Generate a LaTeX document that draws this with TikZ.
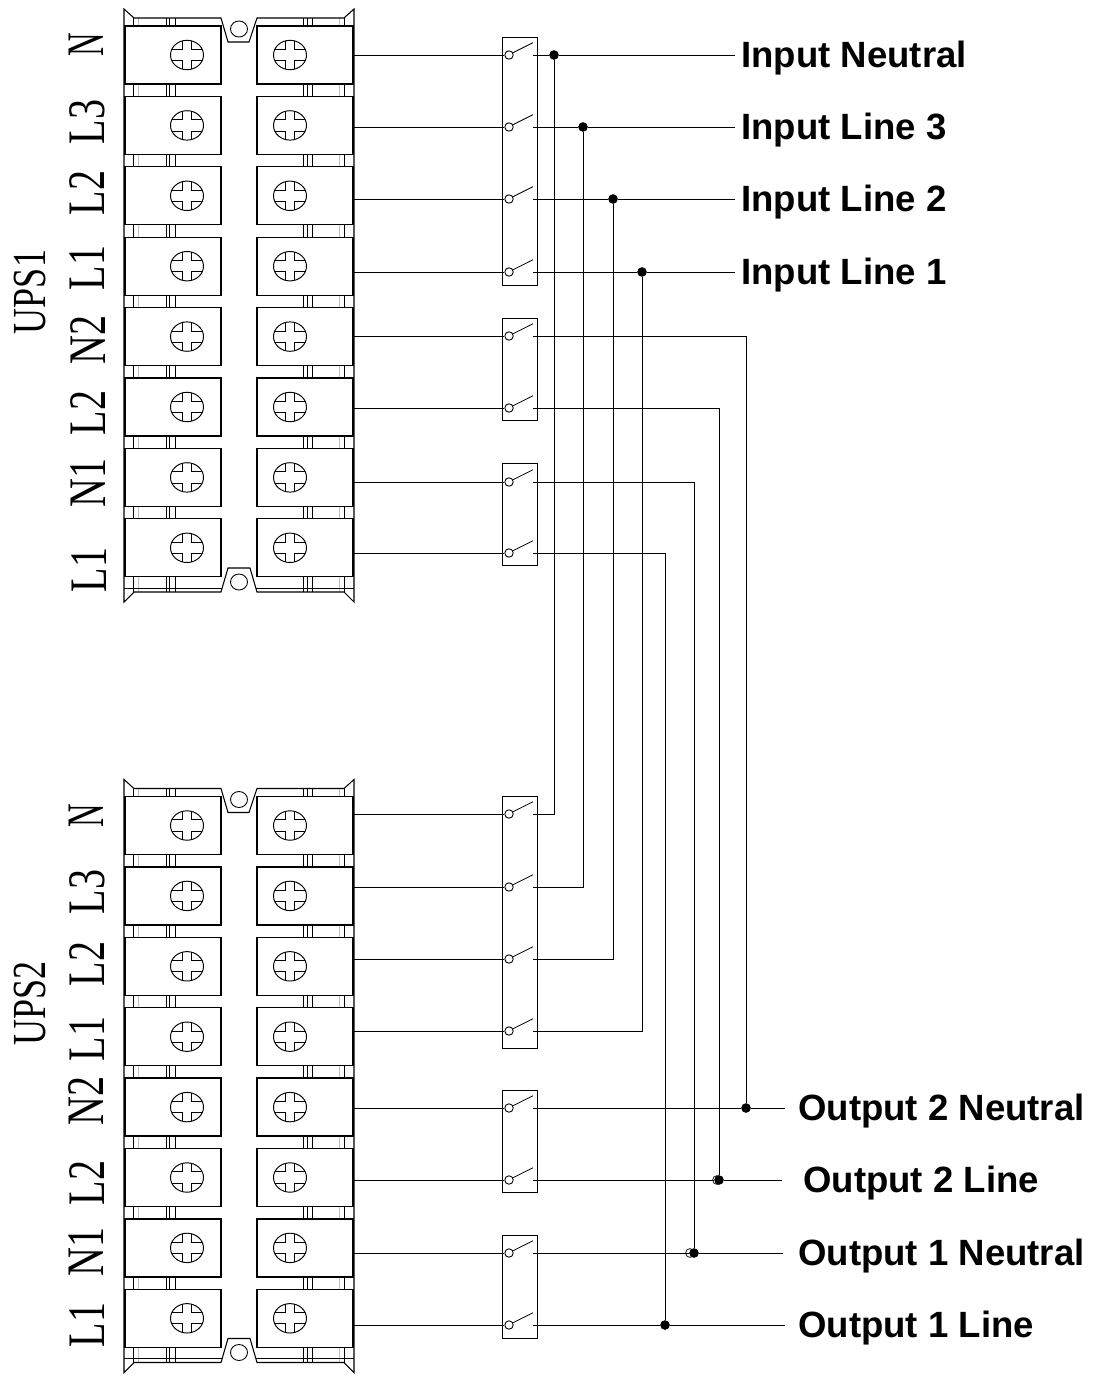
\documentclass[tikz,border=0pt]{standalone}
\usepackage{fontspec}
\setmainfont{Liberation Sans}
\newfontfamily\pinfont{Liberation Serif}
\usepackage{tikz}
\tikzset{
	wire/.style={line width=0.45pt},
	contact/.style={draw,circle,fill=white,inner sep=0pt,minimum size=4.8pt,line width=0.5pt},
	dot/.style={draw,circle,fill=black,inner sep=0pt,minimum size=5pt},
	opendot/.style={draw,circle,fill=white,inner sep=0pt,minimum size=5pt,line width=0.4pt},
	wirelabel/.style={anchor=west,inner sep=0pt,font=\fontsize{20.8}{24}\selectfont\bfseries},
	pinlabel/.style={rotate=90,inner sep=0pt,font=\fontsize{30}{34}\selectfont\pinfont},
	upslabel/.style={rotate=90,inner sep=0pt,font=\fontsize{27}{30}\selectfont\pinfont}
}
\newcommand{\narrow}[1]{\scalebox{0.76}[1]{#1}}
\begin{document}
\begin{tikzpicture}[x=0.02cm,y=-0.02cm]
	\useasboundingbox (0,0) rectangle (1096,1375);
	% terminal blocks
	\foreach \b in {0,770.5} {
		\begin{scope}[yshift=-\b*0.02cm]
			\foreach \x in {133,166,169,175,303,307,312,344}
			\draw [line width=0.5pt] (\x,18)--(\x,592);
			\foreach \x in {138,339}
			\draw [gray!50,line width=0.4pt] (\x,18)--(\x,592);
			\draw [line width=0.6pt] (134,18)--(124,9)--(124,602)--(134,592)--(221,592)--(228,568)--(250,568)--(257,592)--(344,592)--(354,602)--(354,9)--(344,18)--(257,18)--(249,42)--(228,42)--(221,18)--cycle;
			\draw [line width=0.4pt] (124,588)--(222,588) (256,588)--(354,588);
			\draw [line width=0.5pt] (239,29) circle [x radius=8.5,y radius=8];
			\draw [line width=0.5pt] (239,582) circle [x radius=8.5,y radius=8];
			\foreach \r in {0,...,7} {
				\draw [fill=white,line width=0.7pt] (125,{26+70.4*\r}) rectangle (221,{84+70.4*\r});
				\draw [fill=white,line width=0.7pt] (257,{26+70.4*\r}) rectangle (353,{84+70.4*\r});
				\foreach \x in {187,290} {
					\draw [line width=0.55pt] (\x,{55+70.4*\r}) circle [x radius=16.5,y radius=14.7];
					\foreach \sx/\sy in {1/1,1/-1,-1/1,-1/-1}
					\draw [line width=0.55pt] ({\x+\sx*4.7},{55+70.4*\r+\sy*14})--({\x+\sx*4.7},{55+70.4*\r+\sy*5.6})--({\x+\sx*15.3},{55+70.4*\r+\sy*5.6});
				}
			}
		\end{scope}
	}
	% switch boxes
	\foreach \t/\e in {37/285,318/420,463/565,796/1048,1090/1192,1235/1338}
	\draw [wire] (502,\t) rectangle (537,\e);
	% contacts
	\foreach \n/\y in {a1/55,a2/127,a3/199,a4/272,a5/336,a6/408,a7/482,a8/553,
		b1/814,b2/887,b3/959,b4/1031,b5/1108,b6/1180,b7/1253,b8/1325} {
		\coordinate (t\n) at (353,\y);
		\coordinate (o\n) at (533,\y);
		\node [contact] (c\n) at (509,\y) {};
		\draw [wire] (t\n) -- (c\n);
		\draw [wire] (c\n.30) -- +(20,-10);
	}
	% junctions
	\node [opendot] (h6) at (717,1180) {};
	\node [opendot] (h7) at (690,1253) {};
	\foreach \n/\x/\y in {ja1/554/55,ja2/583/127,ja3/613/199,ja4/642/272,
		jb5/746/1108,jb6/719/1180,jb7/694/1253,jb8/665/1325}
	\node [dot] (\n) at (\x,\y) {};
	% vertical runs, input side
	\foreach \i in {1,2,3,4} {
		\draw [wire] (oa\i) -- (ja\i);
		\draw [wire] (ja\i) |- (ob\i);
	}
	% vertical runs, output side
	\foreach \i in {5,6,7,8} {
		\draw [wire] (ob\i) -- (jb\i);
		\draw [wire] (oa\i) -| (jb\i);
	}
	% wire ends and labels
	\foreach \n/\x/\lx/\y/\txt in {ja1/735/741/55/Input Neutral,ja2/735/741/127/Input Line 3,
		ja3/735/741/199/Input Line 2,ja4/735/741/272/Input Line 1,
		jb5/785/798/1108/Output 2 Neutral,jb6/782/803/1180/Output 2 Line,
		jb7/783/798/1253/Output 1 Neutral,jb8/785/798/1325/Output 1 Line} {
		\coordinate (e\n) at (\x,\y);
		\node [wirelabel] (l\n) at (\lx,\y+3.5) {\txt};
		\draw [wire] (\n) -- (e\n);
	}
	% pin names
	\foreach \n/\x/\y/\txt in {p2/87.5/122/L3,p3/87.5/193/L2,p4/87.5/268/L1,p5/88.5/340/N2,p6/88.5/413/L2,p7/88.5/483/N1,p8/89/570/L1,
		q2/87.5/892/L3,q3/87.5/964/L2,q4/87.5/1039/L1,q5/86/1101/N2,q6/87/1183/L2,q7/86/1252/N1,q8/87.5/1325/L1}
	\node [pinlabel] (\n) at (\x,\y) {\narrow{\txt}};
	\node [pinlabel] (p1) at (86,45) {\scalebox{0.62}[1]{N}};
	\node [pinlabel] (q1) at (86.5,816) {\scalebox{0.62}[1]{N}};
	\node [upslabel] (ups1) at (30,292) {\narrow{UPS1}};
	\node [upslabel] (ups2) at (30,1003.5) {\narrow{UPS2}};
\end{tikzpicture}
\end{document}
